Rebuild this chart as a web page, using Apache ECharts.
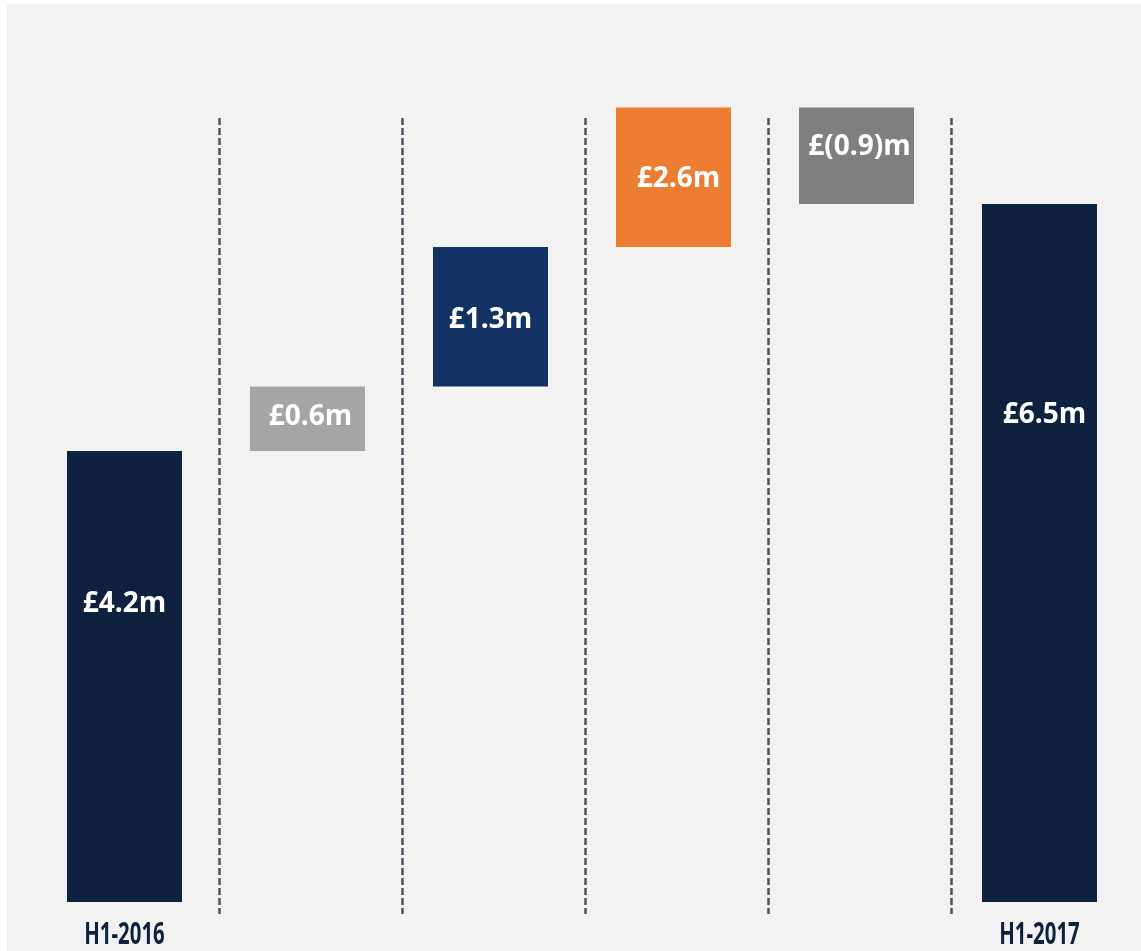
<!DOCTYPE html>
<html>
<head>
<meta charset="utf-8">
<script src="https://cdn.jsdelivr.net/npm/echarts@6/dist/echarts.min.js"></script>
<style>
  html, body { margin: 0; padding: 0; background: #fff; }
  #chart { width: 1141px; height: 951px; }
</style>
</head>
<body>
<div id="chart"></div>
<script>
  // data
  const categories = ['H1-2016', '', '', '', '', 'H1-2017']
  const startValue = 4.2
  const steps = [0.6, 1.3, 1.3, -0.9]   // drawn heights of the bridge steps
  const endValue = 6.5
  const labels = ['£4.2m', '£0.6m', '£1.3m', '£2.6m', '£(0.9)m', '£6.5m']

  const barColors = ['#0e2240', '#a5a5a5', '#123263', '#ed7d31', '#7f7f7f', '#0e2240']
  const labelOffsets = [[0, -72], [3, -2], [0, 3], [5, 2], [3, -9], [5, -138]]

  // build invisible base + visible step for the waterfall
  const base = [0]
  const shown = [startValue]
  let running = startValue
  steps.forEach(function (s) {
    if (s >= 0) {
      base.push(running)
      shown.push(s)
    } else {
      base.push(running + s)
      shown.push(-s)
    }
    running += s
  })
  base.push(0)
  shown.push(endValue)

  const myChart = echarts.init(document.getElementById('chart'))
  const option = {
    backgroundColor: '#ffffff',
    animation: false,
    graphic: [{
      type: 'rect',
      z: -10,
      silent: true,
      shape: { x: 7, y: 4, width: 1134, height: 947 },
      style: { fill: '#f2f2f2' }
    }],
    grid: [
      { left: 33, right: 10, top: 43, bottom: 49 },
      // separate grid used only for the dashed dividers
      { left: 36, right: 7, top: 118, bottom: 37 }
    ],
    xAxis: [{
      type: 'category',
      gridIndex: 0,
      data: categories,
      axisLine: { show: false },
      axisTick: { show: false },
      splitLine: { show: false },
      axisLabel: { show: false }
    }, {
      type: 'category',
      gridIndex: 1,
      data: categories,
      axisLine: { show: false },
      axisTick: { show: false },
      axisLabel: { show: false },
      splitLine: {
        show: true,
        showMinLine: false,
        showMaxLine: false,
        lineStyle: { color: '#4a5560', width: 2.5, type: [7, 3] }
      }
    }],
    yAxis: [{
      type: 'value',
      gridIndex: 0,
      min: 0,
      max: 8,
      show: false
    }, {
      type: 'value',
      gridIndex: 1,
      show: false
    }],
    series: [{
      name: 'base',
      type: 'bar',
      stack: 'w',
      barWidth: 115,
      silent: true,
      itemStyle: { color: 'transparent' },
      data: base
    }, {
      name: 'value',
      type: 'bar',
      stack: 'w',
      barWidth: 115,
      data: shown.map(function (v, i) {
        return {
          value: v,
          itemStyle: { color: barColors[i] },
          label: { offset: labelOffsets[i] }
        }
      }),
      label: {
        show: true,
        position: 'inside',
        color: '#ffffff',
        fontFamily: "'Open Sans', sans-serif",
        fontWeight: 'bold',
        fontSize: 28,
        formatter: function (p) { return labels[p.dataIndex] }
      }
    }]
  }
  myChart.setOption(option)

  // condensed category labels: placed through the axis scale, squeezed horizontally
  const axisY = myChart.convertToPixel({ yAxisIndex: 0 }, 0)
  const catText = []
  categories.forEach(function (c, i) {
    if (!c) return
    const x = myChart.convertToPixel({ xAxisIndex: 0 }, i)
    catText.push({
      type: 'text',
      x: x,
      y: axisY + 33,
      scaleX: 0.68,
      silent: true,
      style: {
        text: c,
        fill: '#0e2240',
        font: "bold 30px 'Noto Sans', sans-serif",
        align: 'center',
        verticalAlign: 'middle'
      }
    })
  })
  myChart.setOption({ graphic: option.graphic.concat(catText) })
</script>
</body>
</html>
